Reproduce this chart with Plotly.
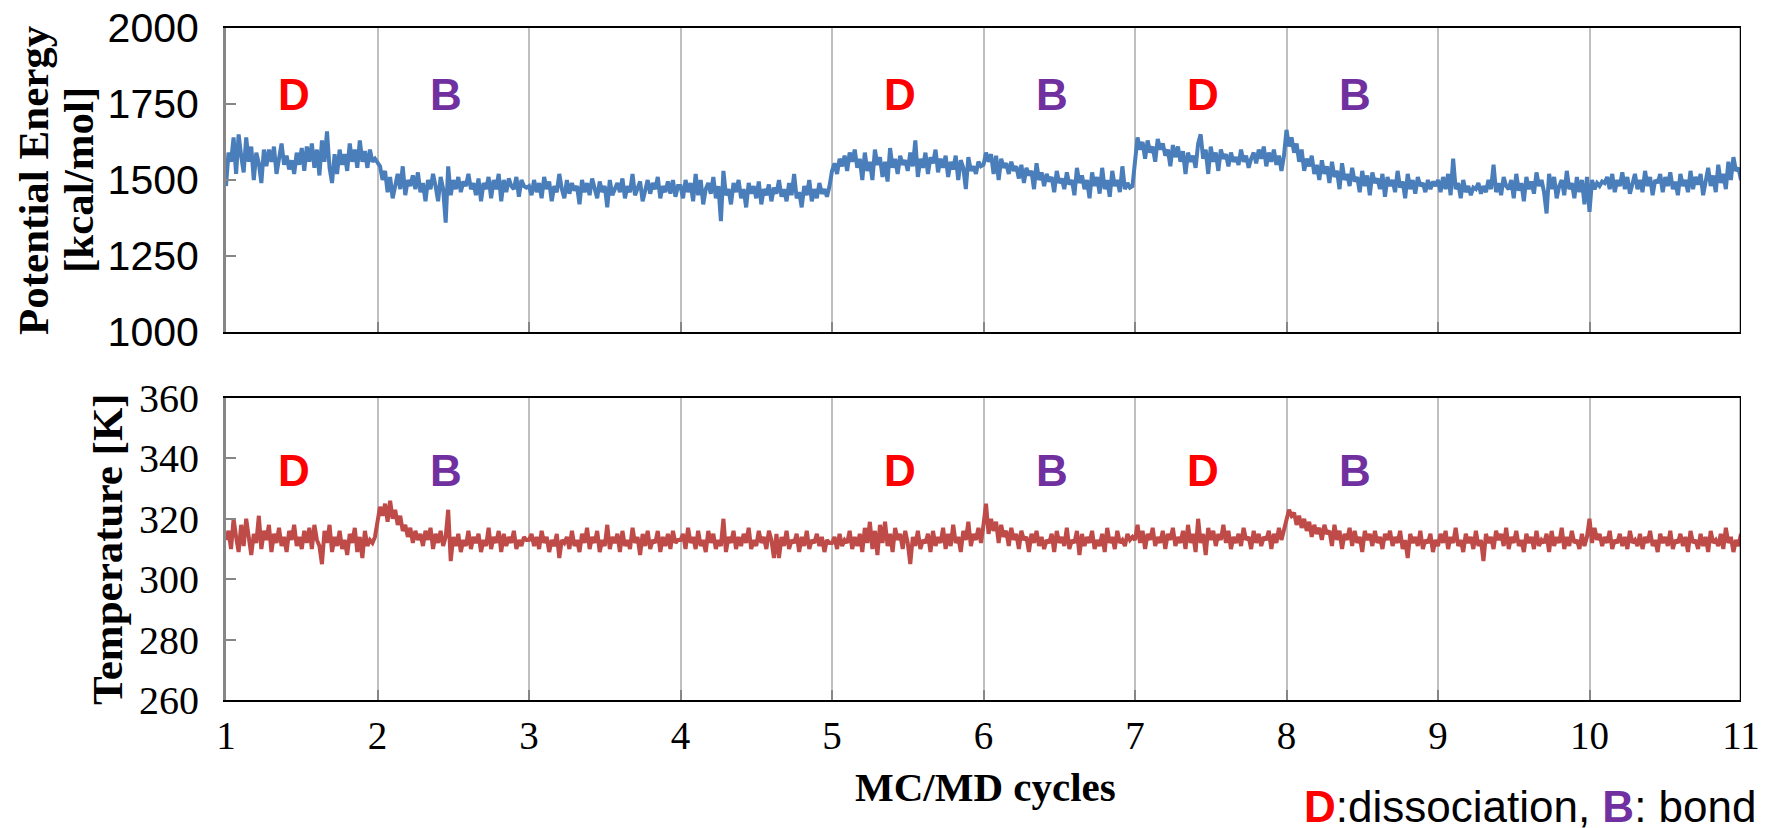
import numpy as np
import plotly.graph_objects as go

# ---- data: one row of samples per MC/MD cycle -------------------------------
cycles = [1, 2, 3, 4, 5, 6, 7, 8, 9, 10]

energy_rows = [
    [1480, 1590, 1560, 1640, 1520, 1650, 1580, 1525, 1640, 1560,
     1610, 1500, 1590, 1555, 1490, 1600, 1545, 1600, 1560, 1610,
     1520, 1575, 1620, 1550, 1580, 1535, 1565, 1520, 1590, 1550,
     1605, 1530, 1610, 1560, 1620, 1540, 1600, 1515, 1630, 1560,
     1660, 1540, 1490, 1585, 1520, 1600, 1550, 1585, 1530, 1620,
     1560, 1600, 1540, 1630, 1560, 1595, 1540, 1600, 1560, 1570],
    [1560, 1545, 1500, 1530, 1460, 1510, 1440, 1490, 1520, 1470,
     1545, 1450, 1500, 1480, 1515, 1470, 1525, 1460, 1490, 1430,
     1500, 1470, 1520, 1480, 1430, 1510, 1470, 1360, 1545, 1450,
     1500, 1470, 1510, 1460, 1495, 1480, 1520, 1470, 1490, 1450,
     1505, 1430, 1490, 1470, 1510, 1440, 1500, 1470, 1520, 1430,
     1500, 1460, 1505, 1480, 1470, 1510, 1445, 1500, 1480, 1475],
    [1480, 1450, 1500, 1460, 1490, 1440, 1510, 1470, 1495, 1430,
     1480, 1460, 1520, 1470, 1440, 1500, 1455, 1490, 1465, 1480,
     1420, 1500, 1460, 1490, 1450, 1505, 1470, 1440, 1495, 1460,
     1480, 1410, 1500, 1450, 1470, 1490, 1460, 1505, 1440, 1480,
     1460, 1520, 1450, 1475, 1495, 1430, 1470, 1500, 1455, 1490,
     1470, 1510, 1440, 1480, 1460, 1495, 1455, 1500, 1445, 1480],
    [1480, 1440, 1500, 1460, 1490, 1430, 1520, 1450, 1500, 1420,
     1470, 1490, 1455, 1510, 1440, 1480, 1365, 1530, 1450, 1470,
     1420, 1490, 1460, 1500, 1440, 1470, 1410, 1490, 1455, 1480,
     1440, 1495, 1420, 1470, 1450, 1485, 1430, 1475, 1455, 1500,
     1445, 1470, 1430, 1490, 1450, 1520, 1440, 1460, 1410, 1480,
     1450, 1500, 1430, 1470, 1440, 1490, 1455, 1470, 1445, 1480],
    [1530, 1555, 1520, 1570, 1545, 1580, 1530, 1590, 1560, 1600,
     1540, 1570, 1500, 1590, 1530, 1560, 1500, 1600, 1550, 1575,
     1510, 1560, 1495, 1605, 1540, 1570, 1520, 1580, 1550, 1565,
     1530, 1590, 1545, 1630, 1510, 1570, 1540, 1590, 1520, 1575,
     1555, 1600, 1525, 1570, 1540, 1580, 1510, 1560, 1535, 1580,
     1500, 1565, 1540, 1470, 1575, 1530, 1545, 1520, 1560, 1545],
    [1550, 1590, 1560, 1585, 1520, 1580, 1500, 1570, 1540, 1555,
     1520, 1560, 1530, 1545, 1505, 1550, 1490, 1540, 1515, 1530,
     1470, 1555, 1500, 1525, 1480, 1520, 1495, 1510, 1460, 1530,
     1490, 1505, 1470, 1525, 1485, 1500, 1450, 1540, 1490, 1515,
     1470, 1500, 1440, 1525, 1480, 1510, 1455, 1540, 1470, 1500,
     1445, 1530, 1480, 1500, 1460, 1545, 1470, 1490, 1475, 1480],
    [1560, 1640, 1600, 1625, 1570, 1630, 1590, 1610, 1560, 1635,
     1600, 1620, 1580, 1600, 1545, 1615, 1575, 1610, 1560, 1595,
     1520, 1590, 1560, 1580, 1540, 1620, 1650, 1570, 1600, 1520,
     1610, 1560, 1590, 1530, 1600, 1570, 1585, 1545, 1590, 1560,
     1575, 1550, 1600, 1560, 1580, 1540, 1570, 1590, 1555, 1600,
     1570, 1610, 1545, 1590, 1560, 1600, 1550, 1580, 1530, 1580],
    [1665, 1610, 1640, 1590, 1620, 1560, 1600, 1530, 1570, 1545,
     1580, 1520, 1550, 1500, 1565, 1520, 1545, 1490, 1560, 1510,
     1530, 1470, 1555, 1500, 1520, 1480, 1540, 1495, 1510, 1460,
     1530, 1480, 1515, 1450, 1525, 1490, 1505, 1470, 1520, 1445,
     1510, 1480, 1500, 1460, 1530, 1475, 1495, 1440, 1520, 1470,
     1500, 1455, 1510, 1480, 1490, 1460, 1500, 1470, 1495, 1480],
    [1500, 1460, 1510, 1470, 1520, 1450, 1570, 1470, 1490, 1440,
     1500, 1460, 1480, 1450, 1475, 1470, 1490, 1455, 1480, 1460,
     1500, 1470, 1550, 1460, 1490, 1450, 1510, 1480, 1470, 1500,
     1440, 1520, 1465, 1490, 1430, 1510, 1470, 1495, 1455, 1525,
     1480, 1500, 1460, 1390, 1520, 1470, 1510, 1440, 1480, 1500,
     1450, 1530, 1470, 1490, 1440, 1510, 1460, 1500, 1420, 1510],
    [1395, 1500, 1470, 1490, 1480, 1495, 1490, 1510, 1470, 1520,
     1460, 1500, 1480, 1525, 1470, 1510, 1455, 1490, 1520, 1470,
     1500, 1460, 1530, 1480, 1510, 1450, 1500, 1490, 1520, 1460,
     1510, 1480, 1525, 1470, 1495, 1450, 1520, 1480, 1500, 1460,
     1530, 1470, 1510, 1485, 1520, 1450, 1500, 1540, 1480, 1515,
     1460, 1550, 1490, 1520, 1470, 1560, 1500, 1575, 1530, 1540],
]
energy_last = 1500

temperature_rows = [
    [313, 316, 310, 320, 314, 309, 318, 311, 320, 313,
     308, 315, 312, 321, 310, 316, 313, 318, 309, 315,
     312, 317, 311, 314, 309, 316, 313, 318, 311, 314,
     310, 316, 312, 317, 310, 318, 313, 311, 305, 316,
     312, 318, 309, 314, 311, 316, 310, 313, 308, 315,
     312, 317, 309, 314, 307, 316, 311, 313, 312, 314],
    [320, 324, 321, 325, 319, 326, 320, 323, 318, 321,
     316, 318, 314, 317, 312, 316, 313, 315, 311, 316,
     313, 317, 310, 315, 312, 316, 311, 314, 323, 306,
     314, 311, 315, 309, 313, 311, 316, 310, 314, 312,
     315, 309, 313, 311, 317, 310, 314, 312, 316, 309,
     315, 311, 314, 312, 316, 310, 313, 311, 314, 313],
    [313, 315, 311, 314, 310, 316, 312, 314, 309, 313,
     311, 315, 307, 313, 312, 314, 310, 316, 311, 313,
     309, 315, 312, 317, 310, 314, 312, 316, 309, 313,
     311, 318, 310, 314, 312, 315, 309, 316, 311, 313,
     310, 317, 312, 314, 308, 315, 311, 316, 310, 313,
     312, 316, 309, 314, 311, 315, 310, 316, 312, 313],
    [313, 315, 310, 317, 312, 314, 310, 316, 311, 313,
     309, 316, 312, 315, 310, 313, 311, 320, 309, 314,
     312, 316, 310, 314, 311, 315, 312, 317, 310, 313,
     311, 316, 312, 314, 310, 316, 313, 307, 315, 307,
     314, 311, 316, 310, 313, 312, 315, 309, 314, 311,
     316, 310, 313, 312, 315, 311, 314, 309, 313, 312],
    [312, 314, 310, 315, 311, 313, 312, 316, 310, 314,
     311, 315, 309, 317, 312, 319, 310, 316, 308, 318,
     312, 319, 311, 315, 309, 317, 313, 315, 310, 316,
     312, 305, 314, 311, 316, 310, 313, 312, 315, 309,
     316, 311, 314, 312, 317, 310, 315, 311, 318, 312,
     314, 309, 316, 313, 319, 311, 315, 313, 317, 312],
    [318, 325, 315, 320, 316, 319, 312, 318, 314, 316,
     311, 317, 313, 315, 310, 316, 313, 314, 309, 315,
     312, 316, 311, 314, 310, 313, 312, 315, 309, 316,
     312, 314, 311, 317, 310, 313, 312, 316, 308, 315,
     311, 314, 312, 316, 310, 313, 311, 315, 309, 317,
     312, 314, 310, 316, 312, 313, 311, 315, 313, 314],
    [313, 318, 312, 316, 310, 315, 313, 317, 311, 314,
     312, 316, 310, 315, 313, 317, 311, 314, 312, 316,
     310, 318, 312, 315, 309, 320, 312, 315, 308, 317,
     313, 316, 311, 315, 313, 318, 312, 316, 310, 314,
     312, 315, 311, 317, 313, 314, 310, 316, 312, 315,
     311, 314, 313, 316, 310, 315, 312, 317, 313, 316],
    [319, 323, 321, 322, 318, 321, 317, 320, 316, 319,
     314, 318, 315, 317, 313, 318, 315, 316, 311, 318,
     313, 316, 310, 315, 313, 317, 311, 316, 312, 314,
     309, 316, 313, 315, 311, 316, 312, 314, 310, 315,
     313, 316, 311, 314, 312, 316, 310, 313, 307, 315,
     312, 314, 311, 316, 310, 313, 312, 315, 309, 313],
    [311, 315, 312, 316, 310, 314, 312, 317, 311, 313,
     309, 315, 312, 314, 310, 316, 311, 313, 306, 315,
     312, 314, 310, 316, 313, 315, 311, 317, 310, 314,
     312, 316, 311, 313, 309, 315, 312, 314, 310, 316,
     311, 313, 312, 315, 309, 316, 311, 314, 312, 317,
     310, 314, 311, 316, 312, 313, 310, 315, 311, 314],
    [320, 312, 317, 313, 315, 311, 314, 312, 316, 310,
     313, 312, 315, 311, 314, 310, 316, 312, 313, 311,
     315, 310, 314, 312, 316, 311, 313, 309, 315, 312,
     314, 311, 316, 310, 313, 312, 315, 311, 314, 309,
     316, 312, 313, 310, 315, 311, 314, 309, 316, 312,
     313, 311, 315, 310, 317, 312, 314, 309, 313, 311],
]
temperature_last = 315

x_ticks = [1, 2, 3, 4, 5, 6, 7, 8, 9, 10, 11]
energy_ticks = [1000, 1250, 1500, 1750, 2000]
temperature_ticks = [260, 280, 300, 320, 340, 360]

event_x = [1.45, 2.45, 5.45, 6.45, 7.45, 8.45]
event_code = ["D", "B", "D", "B", "D", "B"]


def build_series(rows, last, start_cycles):
    xs, ys = [], []
    for c, row in zip(start_cycles, rows):
        n = len(row)
        xs.extend(c + k / n for k in range(n))
        ys.extend(row)
    xs.append(start_cycles[-1] + 1)
    ys.append(last)
    return np.array(xs), np.array(ys)


xe, ye = build_series(energy_rows, energy_last, cycles)
xt, yt = build_series(temperature_rows, temperature_last, cycles)

# ---- layout geometry ----------------------------------------------------------
W, H = 1765, 828
x_dom = [226 / W, 1741 / W]
top_dom = [1 - 332 / H, 1 - 28 / H]
bot_dom = [1 - 700 / H, 1 - 398 / H]

BLUE = "#4A7EBB"
RED_LINE = "#BE4B48"
D_COLOR = "#FF0000"
B_COLOR = "#7030A0"
AXIS_GREY = "#868686"
GRID_GREY = "#BFBFBF"

fig = go.Figure()
fig.add_trace(go.Scatter(x=xe, y=ye, mode="lines", xaxis="x", yaxis="y",
                         line=dict(color=BLUE, width=4), showlegend=False))
fig.add_trace(go.Scatter(x=xt, y=yt, mode="lines", xaxis="x2", yaxis="y2",
                         line=dict(color=RED_LINE, width=4), showlegend=False))

common_x = dict(range=[1, 11], tickvals=x_ticks, showgrid=True, gridcolor=GRID_GREY,
                gridwidth=1.5, showline=True, linecolor="black", linewidth=2,
                mirror=True, ticks="inside", ticklen=10, tickcolor=AXIS_GREY,
                tickwidth=1.5, zeroline=False, domain=x_dom, automargin=False)
common_y = dict(showgrid=False, showline=True, linecolor=AXIS_GREY, linewidth=3,
                ticks="inside", ticklen=10, tickcolor=AXIS_GREY, tickwidth=2,
                zeroline=False, ticklabelstandoff=16, automargin=False)

fig.update_layout(
    width=W, height=H, autosize=False,
    margin=dict(l=0, r=0, t=0, b=0, pad=0),
    paper_bgcolor="white", plot_bgcolor="white",
    xaxis=dict(**common_x, anchor="y", showticklabels=False),
    yaxis=dict(**common_y, range=[1000, 2000], tickvals=energy_ticks,
               domain=top_dom, anchor="x",
               tickfont=dict(family="Liberation Sans", size=41, color="black")),
    xaxis2=dict(**common_x, anchor="y2", showticklabels=True, ticklabelstandoff=0,
                tickfont=dict(family="Liberation Serif", size=39, color="black")),
    yaxis2=dict(**common_y, range=[260, 360], tickvals=temperature_ticks,
                domain=bot_dom, anchor="x2",
                tickfont=dict(family="Liberation Serif", size=40, color="black")),
)

# right-hand frame edge of each panel
for xref, yref in (("x", "y domain"), ("x2", "y2 domain")):
    fig.add_shape(type="line", xref=xref, yref=yref, x0=11, x1=11, y0=0, y1=1,
                  line=dict(color="black", width=2.5))

# D / B event markers in both panels
for xv, code in zip(event_x, event_code):
    col = D_COLOR if code == "D" else B_COLOR
    for xr, yr, yv in (("x", "y", 1781), ("x2", "y2", 336)):
        fig.add_annotation(x=xv, y=yv, xref=xr, yref=yr, text=f"<b>{code}</b>",
                           showarrow=False, xanchor="center", yanchor="middle",
                           font=dict(family="Liberation Sans", size=44, color=col))

title_font = dict(family="Liberation Serif", size=43, color="black")
for txt, px, py in (("<b>Potential Energy</b>", 34, 180),
                    ("<b>[kcal/mol]</b>", 79, 180),
                    ("<b>Temperature [K]</b>", 107, 549)):
    fig.add_annotation(x=px / W, y=1 - py / H, xref="paper", yref="paper", text=txt,
                       textangle=-90, showarrow=False, xanchor="center",
                       yanchor="middle", font=title_font)

fig.add_annotation(x=985 / W, y=1 - 787 / H, xref="paper", yref="paper",
                   text="<b>MC/MD cycles</b>", showarrow=False, xanchor="center",
                   yanchor="middle", font=dict(family="Liberation Serif", size=41,
                                               color="black"))

fig.add_annotation(
    x=1758 / W, y=1 - 806 / H, xref="paper", yref="paper", showarrow=False,
    xanchor="right", yanchor="middle",
    text=(f"<span style='color:{D_COLOR}'><b>D</b></span>:dissociation, "
          f"<span style='color:{B_COLOR}'><b>B</b></span>: bond"),
    font=dict(family="Liberation Sans", size=44, color="black"),
)

fig.write_html("out.html")
